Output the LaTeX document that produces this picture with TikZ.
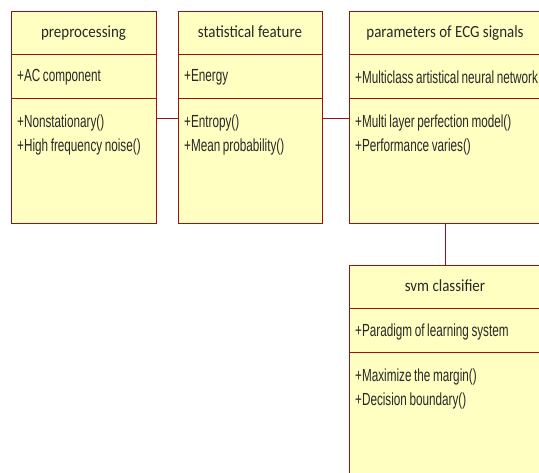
\documentclass[tikz,border=0pt]{standalone}
\usepackage{fontspec}
\setmainfont{Liberation Sans}[FakeStretch=0.67,WordSpace=0.8]
\newfontfamily\headfont{Carlito}[FakeStretch=0.88]
\usetikzlibrary{positioning}
\definecolor{umlline}{RGB}{150,20,20}
\definecolor{umlfill}{RGB}{255,255,194}
\definecolor{umltext}{RGB}{40,40,40}
\newcommand\bodyfont{\fontsize{17.5}{24}\selectfont}
\begin{document}
\begin{tikzpicture}[x=1pt,y=1pt,
    part/.style={draw=umlline,fill=umlfill,line width=0.8pt,inner sep=0pt,outer sep=0pt,text=umltext},
    head/.style={part,minimum height=43pt,text height=14pt,text depth=3pt,font=\headfont\fontsize{17}{20}\selectfont},
    attr/.style={part,minimum height=44pt,minimum width=#1},
    oper/.style={part,minimum height=125pt,minimum width=#1},
    attrtext/.style={anchor=west,inner xsep=6pt,inner ysep=0pt,yshift=-1.5pt,text=umltext,font=\bodyfont},
    optext/.style={anchor=north west,align=left,inner xsep=6pt,inner ysep=17pt,text=umltext,font=\bodyfont},
    conn/.style={draw=umlline,line width=0.8pt}]
    \useasboundingbox (0,0) rectangle (539,-473);
    \clip (0,0) rectangle (539,-473);

    % preprocessing
    \node[head,minimum width=145pt,anchor=north west] (pre-t) at (11,-11) {preprocessing};
    \node[attr=145pt,below=0pt of pre-t,
          label={[attrtext]west:+AC component}] (pre-a) {};
    \node[oper=145pt,below=0pt of pre-a,
          label={[optext]north west:{+Nonstationary()\\+High frequency noise()}}] (pre-o) {};

    % statistical feature
    \node[head,minimum width=144pt,right=22pt of pre-t] (stat-t) {statistical feature};
    \node[attr=144pt,below=0pt of stat-t,
          label={[attrtext]west:+Energy}] (stat-a) {};
    \node[oper=144pt,below=0pt of stat-a,
          label={[optext]north west:{+Entropy()\\+Mean probability()}}] (stat-o) {};

    % parameters of ECG signals
    \node[head,minimum width=192pt,right=27pt of stat-t] (par-t) {parameters of ECG signals};
    \node[attr=192pt,below=0pt of par-t,
          label={[attrtext]west:+Multiclass artistical neural network}] (par-a) {};
    \node[oper=192pt,below=0pt of par-a,
          label={[optext]north west:{+Multi layer perfection model()\\+Performance varies()}}] (par-o) {};

    % svm classifier
    \node[head,minimum width=192pt,below=42pt of par-o] (svm-t) {svm classifier};
    \node[attr=192pt,below=0pt of svm-t,
          label={[attrtext]west:+Paradigm of learning system}] (svm-a) {};
    \node[oper=192pt,below=0pt of svm-a,
          label={[optext]north west:{+Maximize the margin()\\+Decision boundary()}}] (svm-o) {};

    % links
    \draw[conn] ([yshift=-20pt]pre-o.north east) -- ([yshift=-20pt]stat-o.north west);
    \draw[conn] ([yshift=-20pt]stat-o.north east) -- ([yshift=-20pt]par-o.north west);
    \draw[conn] (par-o.south) -- (svm-t.north);
\end{tikzpicture}
\end{document}
